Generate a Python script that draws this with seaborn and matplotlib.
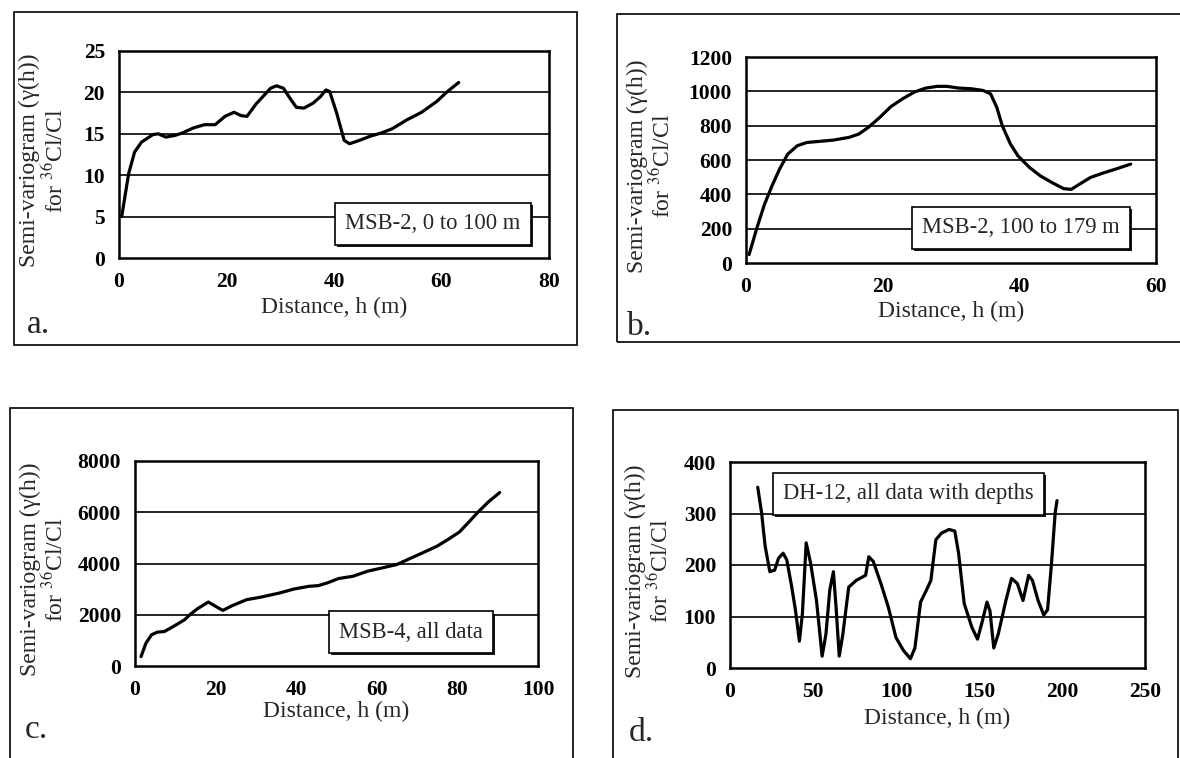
import matplotlib
matplotlib.use("Agg")
import matplotlib.pyplot as plt
import matplotlib.patheffects as pe
import seaborn as sns
import numpy as np
from matplotlib.patches import Rectangle

# panel a: MSB-2, 0 to 100 m
a_h = [0.5, 1.8, 2.9, 4.2, 6.3, 7.3, 8.7, 10.4, 11.8, 13.8, 15.9, 17.9, 19.7, 21.4,
       22.7, 23.8, 25.5, 27.2, 28.2, 29.3, 30.6, 32.0, 33.0, 34.4, 36.1, 37.5, 38.5,
       39.2, 40.5, 41.9, 42.9, 44.7, 46.7, 48.8, 50.8, 53.6, 56.3, 59.1, 61.1, 63.2]
a_g = [5.0, 10.2, 12.8, 14.0, 14.9, 15.0, 14.6, 14.8, 15.1, 15.7, 16.1, 16.1, 17.1, 17.6,
       17.2, 17.1, 18.6, 19.8, 20.5, 20.8, 20.5, 19.1, 18.2, 18.1, 18.7, 19.5, 20.3,
       20.1, 17.5, 14.2, 13.8, 14.2, 14.7, 15.1, 15.6, 16.7, 17.6, 18.9, 20.1, 21.2]

# panel b: MSB-2, 100 to 179 m
b_h = [0.45, 1.6, 2.7, 3.8, 4.9, 6.1, 7.5, 8.9, 10.6, 12.8, 15.1, 16.5, 17.9, 19.6,
       21.2, 22.9, 24.6, 26.3, 28.0, 29.4, 31.1, 33.0, 34.7, 35.8, 36.7, 37.5, 38.7,
       39.8, 41.5, 43.1, 44.8, 46.5, 47.6, 48.8, 50.4, 52.1, 54.4, 56.3]
b_g = [49, 205, 341, 449, 546, 634, 683, 702, 708, 716, 732, 751, 790, 849,
       911, 956, 995, 1019, 1029, 1029, 1019, 1015, 1005, 985, 907, 800, 693,
       624, 556, 507, 468, 433, 429, 459, 498, 522, 551, 576]

# panel c: MSB-4, all data
c_h = [1.5, 2.7, 4.1, 5.5, 7.3, 9.5, 12.3, 13.6, 15.5, 18.2, 20.0, 21.8, 24.1, 27.7,
       31.4, 35.9, 39.5, 43.2, 45.5, 47.7, 50.5, 54.1, 57.7, 61.4, 65.0, 67.7, 71.4,
       75.0, 77.7, 80.5, 82.7, 85.0, 87.7, 90.5]
c_g = [366, 889, 1216, 1320, 1346, 1542, 1804, 2000, 2235, 2497, 2327, 2170, 2353, 2588,
       2693, 2850, 3007, 3111, 3137, 3242, 3412, 3503, 3699, 3830, 3961, 4157, 4418,
       4680, 4941, 5229, 5595, 5987, 6405, 6771]

# panel d: DH-12, all data with depths
d_h = [16.7, 19.0, 21.2, 24.0, 26.9, 29.2, 32.0, 34.2, 37.2, 39.5, 41.8, 43.6, 45.9,
       48.6, 52.1, 55.5, 57.8, 60.1, 62.3, 63.9, 65.8, 68.0, 71.5, 76.0, 81.7, 83.6,
       86.3, 90.9, 95.4, 100.0, 104.5, 108.7, 111.4, 114.8, 118.3, 121.0, 124.0, 127.4,
       132.0, 135.4, 137.7, 141.1, 145.7, 149.1, 152.1, 154.8, 156.6, 158.9, 161.6,
       166.2, 169.6, 173.1, 176.5, 179.9, 182.2, 185.6, 189.0, 191.3, 193.6, 195.9, 197.0]
d_g = [351, 302, 236, 187, 190, 213, 223, 210, 157, 111, 52, 105, 243,
       203, 131, 23, 66, 151, 187, 118, 23, 66, 157, 170, 180, 216,
       207, 164, 118, 59, 34, 18, 39, 128, 151, 170, 249, 262,
       269, 266, 223, 125, 79, 56, 92, 128, 111, 39, 66,
       131, 174, 164, 131, 180, 170, 131, 103, 113, 200, 302, 325]

panels = [
    # h, gamma, xmax, xstep, ymax, ystep, box text, box pos, letter
    (a_h, a_g, 80, 20, 25, 5, "MSB-2, 0 to 100 m", (0.73, 0.165), "a."),
    (b_h, b_g, 60, 20, 1200, 200, "MSB-2, 100 to 179 m", (0.67, 0.17), "b."),
    (c_h, c_g, 100, 20, 8000, 2000, "MSB-4, all data", (0.685, 0.165), "c."),
    (d_h, d_g, 250, 50, 400, 100, "DH-12, all data with depths", (0.43, 0.845), "d."),
]

W, H = 1180, 758
# axes boxes in pixels: left, top, right, bottom
ax_px = [(119, 51, 549, 258), (746, 57, 1156, 263),
         (135, 461, 538, 666), (730, 462, 1145, 668)]
frame_px = [(14, 12, 577, 345), (617, 14, 1200, 342),
            (10, 408, 573, 780), (613, 410, 1178, 780)]
letter_px = [(38, 333), (640, 335), (36, 738), (641, 741)]
ylab_x = [-0.176, -0.232, -0.226, -0.196]
xlab_y = [-0.24, -0.233, -0.22, -0.243]

sns.set_style("white")
plt.rcParams["font.family"] = ["Liberation Serif", "DejaVu Serif"]
plt.rcParams["mathtext.fontset"] = "stix"

fig = plt.figure(figsize=(W / 100, H / 100), dpi=100)

for i, (h, g, xmax, xstep, ymax, ystep, txt, bpos, letter) in enumerate(panels):
    l, t, r, b = ax_px[i]
    ax = fig.add_axes([l / W, 1 - b / H, (r - l) / W, (b - t) / H])
    sns.lineplot(x=h, y=g, ax=ax, color="black", lw=2.3, sort=False)
    ax.set_xlim(0, xmax)
    ax.set_ylim(0, ymax)
    ax.set_xticks(np.arange(0, xmax + 1, xstep))
    ax.set_yticks(np.arange(0, ymax + 1, ystep))
    for yv in np.arange(ystep, ymax, ystep):
        ax.axhline(yv, color="black", lw=1.2, zorder=1)
    for s in ax.spines.values():
        s.set_visible(True)
        s.set_color("black")
        s.set_linewidth(1.8)
    ax.tick_params(axis="both", direction="in", length=4, width=1, colors="black",
                   labelsize=15.5, pad=10)
    for lab in ax.get_xticklabels() + ax.get_yticklabels():
        lab.set_fontweight("bold")
    ax.set_xlabel("Distance, h (m)", fontsize=17)
    ax.xaxis.set_label_coords(0.5, xlab_y[i])
    ax.xaxis.label.set_va("center")
    ax.set_ylabel("Semi-variogram (γ(h))\nfor $^{36}$Cl/Cl", fontsize=17,
                  linespacing=1.1)
    ax.yaxis.label.set_va("center")
    ax.yaxis.set_label_coords(ylab_x[i], 0.47)

    # label box with a thin drop shadow
    box = ax.text(bpos[0], bpos[1], txt, transform=ax.transAxes, ha="center",
                  va="center", fontsize=16.3, zorder=5,
                  bbox=dict(boxstyle="square,pad=0.45", fc="white", ec="black", lw=1.2))
    box.get_bbox_patch().set_path_effects(
        [pe.SimplePatchShadow(offset=(1.5, -1.5), shadow_rgbFace="black", alpha=0.9),
         pe.Normal()])

    fl, ft, fr, fb = frame_px[i]
    fig.patches.append(Rectangle((fl / W, 1 - fb / H), (fr - fl) / W, (fb - ft) / H,
                                 transform=fig.transFigure, fill=False,
                                 ec="black", lw=1.2))
    lx, ly = letter_px[i]
    fig.text(lx / W, 1 - ly / H, letter, fontsize=24, ha="center", va="baseline")

fig.savefig("out.png", dpi=100)
